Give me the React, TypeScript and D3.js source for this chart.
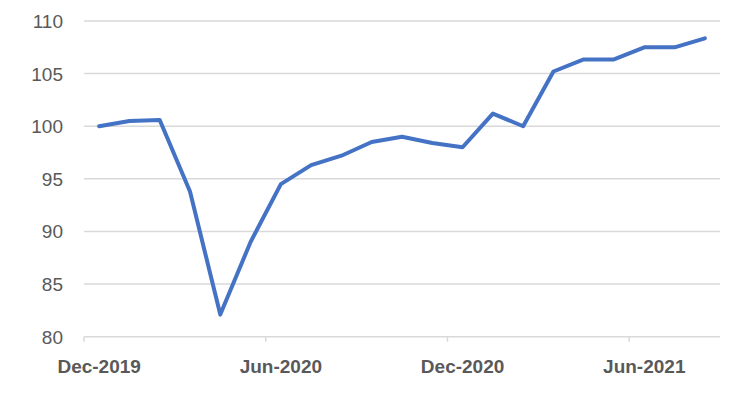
import React from "react";
import * as d3 from "d3";

const months = [
  "Dec-2019", "Jan-2020", "Feb-2020", "Mar-2020", "Apr-2020", "May-2020", "Jun-2020",
  "Jul-2020", "Aug-2020", "Sep-2020", "Oct-2020", "Nov-2020", "Dec-2020",
  "Jan-2021", "Feb-2021", "Mar-2021", "Apr-2021", "May-2021", "Jun-2021", "Jul-2021", "Aug-2021",
];
const values = [
  100, 100.5, 100.6, 93.8, 82.1, 89.0, 94.5,
  96.3, 97.2, 98.5, 99.0, 98.4, 98.0,
  101.2, 100.0, 105.2, 106.35, 106.35, 107.5, 107.5, 108.35,
];
const yTicks = [80, 85, 90, 95, 100, 105, 110];
const xLabels = ["Dec-2019", "Jun-2020", "Dec-2020", "Jun-2021"];

export default function App() {
  const W = 750, H = 395;
  const left = 84, right = 720, top = 21, bottom = 336.7;
  const x = d3.scaleBand<string>().domain(months).range([left, right]).padding(0);
  const y = d3.scaleLinear().domain([80, 110]).range([bottom, top]);
  const cx = (m: string) => (x(m) as number) + x.bandwidth() / 2;
  const line = d3.line<number>().x((_, i) => cx(months[i])).y((v) => y(v));
  const tickIdx = [0, 6, 12, 18];
  const textColor = "#595959";
  return (
    <svg width={W} height={H} style={{ position: "absolute", left: 0, top: 0, background: "#fff" }}>
      {yTicks.map((t) => (
        <g key={t}>
          <line x1={left} x2={right} y1={y(t)} y2={y(t)} stroke="#d9d9d9" strokeWidth={1.5} />
          <text x={63} y={y(t) + 7} textAnchor="end" fill={textColor}
            style={{ fontFamily: "Liberation Sans, Arial, sans-serif", fontSize: 19 }}>{t}</text>
        </g>
      ))}
      {tickIdx.map((i) => (
        <line key={i} x1={x(months[i]) as number} x2={x(months[i]) as number}
          y1={bottom} y2={bottom + 5} stroke="#d9d9d9" strokeWidth={1.5} />
      ))}
      {xLabels.map((m) => (
        <text key={m} x={cx(m)} y={373} textAnchor="middle" fill={textColor}
          style={{ fontFamily: "Liberation Sans, Arial, sans-serif", fontSize: 19, fontWeight: 700 }}>{m}</text>
      ))}
      <path d={line(values) || ""} fill="none" stroke="#4472C4" strokeWidth={4}
        strokeLinejoin="round" strokeLinecap="round" />
    </svg>
  );
}
